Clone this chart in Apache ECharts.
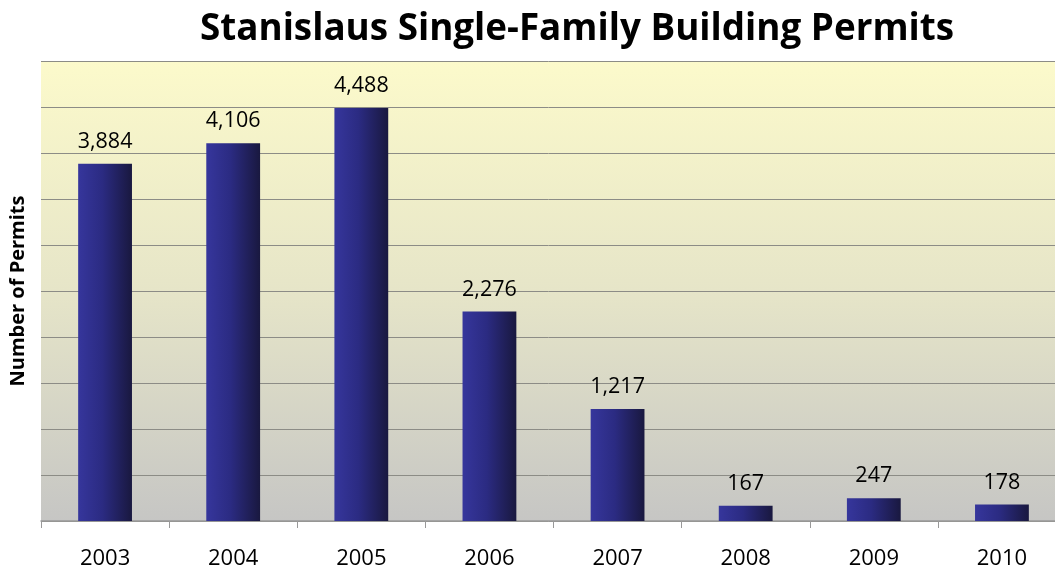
<!DOCTYPE html>
<html><head><meta charset="utf-8">
<script src="https://cdn.jsdelivr.net/npm/echarts@6/dist/echarts.min.js"></script>
<style>html,body{margin:0;padding:0;background:#fff}#c{width:1055px;height:571px}</style>
</head><body><div id="c"></div>
<script>
const years = ['2003','2004','2005','2006','2007','2008','2009','2010'];
const permits = [3884, 4106, 4488, 2276, 1217, 167, 247, 178];
const yMax = 5000, yStep = 500;

const chart = echarts.init(document.getElementById('c'));
chart.setOption({
  animation: false,
  title: {
    text: 'Stanislaus Single-Family Building Permits',
    left: 572, top: 6, textAlign: 'center',
    textStyle: { fontFamily: 'Open Sans', fontWeight: 'bold', fontSize: 36.8, color: '#000' }
  },
  grid: {
    left: 41, right: -11, top: 61, bottom: 50, show: true, borderWidth: 0,
    outerBoundsMode: 'none', containLabel: false,
    backgroundColor: new echarts.graphic.LinearGradient(0, 0, 0, 1, [
      { offset: 0, color: '#FCFACB' }, { offset: 0.5, color: '#E6E5C8' }, { offset: 1, color: '#C6C6C4' }
    ])
  },
  xAxis: {
    type: 'category', data: years,
    axisLine: { lineStyle: { color: '#999', width: 1.5 } },
    axisTick: { show: true, length: 7, lineStyle: { color: '#999' } },
    axisLabel: { fontFamily: 'Open Sans', fontSize: 22, color: '#000', margin: 27 }
  },
  yAxis: {
    type: 'value', min: 0, max: yMax, interval: yStep,
    name: 'Number of Permits', nameLocation: 'middle', nameGap: 13,
    nameTextStyle: { fontFamily: 'Open Sans', fontWeight: 'bold', fontSize: 20, color: '#000' },
    axisLine: { show: false }, axisTick: { show: false }, axisLabel: { show: false },
    splitLine: { lineStyle: { color: '#8C8C86', width: 1 } }
  },
  series: [{
    type: 'bar', data: permits, barWidth: '42%',
    itemStyle: {
      color: new echarts.graphic.LinearGradient(0, 0, 1, 0, [
        { offset: 0, color: '#36369C' }, { offset: 0.45, color: '#2B2B82' }, { offset: 1, color: '#19183F' }
      ])
    },
    label: {
      show: true, position: 'top', distance: 11, color: '#000',
      fontFamily: 'Open Sans', fontSize: 21.5,
      formatter: p => p.value.toLocaleString('en-US')
    }
  }]
});
</script></body></html>
